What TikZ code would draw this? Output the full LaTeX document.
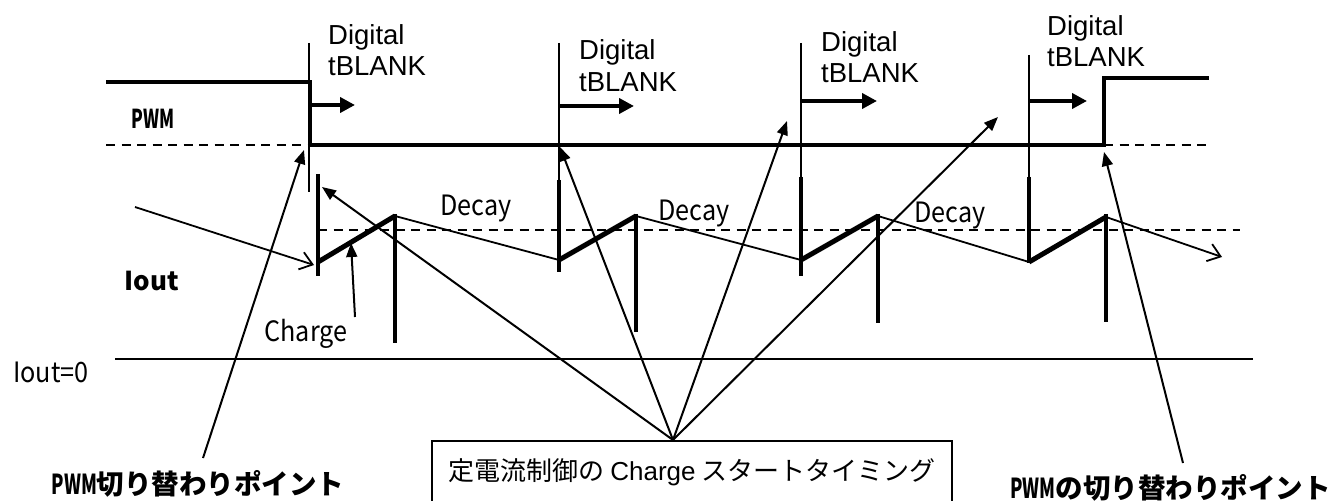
\documentclass[tikz,border=0pt]{standalone}
\usepackage{fontspec}
\setmainfont{Liberation Sans}
\newfontfamily\jp{Noto Sans CJK JP}
\newfontfamily\hwfont[FakeStretch=0.9]{Noto Sans CJK JP}
\newfontfamily\jpnarrow[FakeStretch=0.66]{Noto Sans CJK JP}
\usetikzlibrary{arrows.meta}
\tikzset{
  wave/.style={line width=3.4bp},
  thinv/.style={line width=2bp},
  iv/.style={line width=3.2bp},
  chg/.style={line width=5bp},
  dec/.style={line width=1.8bp},
  dsh/.style={line width=2bp, dash pattern=on 9bp off 6.5bp},
  conn/.style={line width=2bp, -{Triangle[length=14bp,width=11bp]}},
  openarr/.style={line width=1.8bp, -{Straight Barb[length=12bp,width=18bp]}},
  blank/.style={line width=4.2bp, -{Triangle[length=15bp,width=15bp]}},
  dig/.style={font=\fontsize{27.5bp}{31bp}\selectfont, inner sep=0, anchor=base west},
  hw/.style={font=\hwfont\fontsize{28bp}{30bp}\selectfont, inner sep=0},
  bl/.style={font=\jp\bfseries\fontsize{26bp}{30bp}\selectfont, inner sep=0},
  bbl/.style={font=\jp\bfseries\fontsize{27.5bp}{30bp}\selectfont, inner sep=0},
  boxlbl/.style={draw, line width=1.5bp, inner sep=0, minimum width=520bp, minimum height=64bp,
    font=\jp\fontsize{26bp}{30bp}\selectfont}
}
\begin{document}
\begin{tikzpicture}[x=1bp,y=-1bp]
\useasboundingbox (0,0) rectangle (1333,501);
% PWM waveform
\draw[wave] (106,82) -- (310,82) -- (310,145) -- (1104,145) -- (1104,78) -- (1209,78);
\draw[dsh] (106,145) -- (310,145);
\draw[dsh] (1104,145) -- (1207,145);
% tBLANK verticals
\draw[thinv] (309,43) -- (309,192);
\draw[thinv] (559,43) -- (559,180);
\draw[thinv] (801,43) -- (801,177);
\draw[thinv] (1029,55) -- (1029,177);
% Iout verticals at charge start
\draw[iv] (318,174) -- (318,276);
\draw[iv] (559,180) -- (559,272);
\draw[iv] (801,177) -- (801,276);
\draw[iv] (1029,177) -- (1029,263);
% peak verticals
\draw[iv] (395,214) -- (395,343);
\draw[iv] (636,214) -- (636,332);
\draw[iv] (878,214) -- (878,323);
\draw[iv] (1106,214) -- (1106,322);
% average and zero lines
\draw[dsh] (318,230) -- (1240,230);
\draw[line width=2bp] (115,359) -- (1253,359);
% sawtooth
\draw[chg] (318,262) -- (395,216);
\draw[chg] (559,260) -- (636,216);
\draw[chg] (801,260) -- (878,216);
\draw[chg] (1029,262) -- (1106,217);
\draw[dec] (395,216) -- (559,260);
\draw[dec] (636,216) -- (801,260);
\draw[dec] (878,216) -- (1029,262);
\coordinate (tailend) at (1222,257);
\draw[openarr] (1106,217) -- (tailend);
% tBLANK arrows
\draw[blank] (310,105) -- (355,105);
\draw[blank] (559,106) -- (634,106);
\draw[blank] (801,101) -- (877,101);
\draw[blank] (1029,101) -- (1087,101);
% Digital tBLANK labels
\node[dig] (d1a) at (328,45) {Digital};
\node[dig] (d1b) at (328,76) {tBLANK};
\node[dig] (d2a) at (579,60) {Digital};
\node[dig] (d2b) at (579,92) {tBLANK};
\node[dig] (d3a) at (821,52) {Digital};
\node[dig] (d3b) at (821,83) {tBLANK};
\node[dig] (d4a) at (1047,36) {Digital};
\node[dig] (d4b) at (1047,67) {tBLANK};
% side labels
\node[bl] (pwm) at (153,119) {{\jpnarrow\bfseries PWM}};
\node[bl] (iout) at (152,281) {Iout};
\node[hw] (charge) at (306,334) {Charge};
\node[hw] (iout0) at (51,372) {Iout=0};
\node[hw] (dc1) at (476,209) {Decay};
\node[hw] (dc2) at (694,214) {Decay};
\node[hw] (dc3) at (950,216) {Decay};
% bottom labels
\node[bbl] (lp) at (198,484) {{\jpnarrow\bfseries PWM}切り替わりポイント};
\node[bbl, anchor=east] (rp) at (1331,488) {{\jpnarrow\bfseries PWM}の切り替わりポイント};
\node[boxlbl, anchor=north] (box) at (692,440) {定電流制御の {\rmfamily Charge} スタートタイミング};
% connector endpoints
\coordinate (hub) at (673,440);
\coordinate (lfoot) at (203,458);
\coordinate (rfoot) at (1183,463);
\coordinate (inA) at (135,207);
\coordinate (chgfoot) at (355,317);
\coordinate (t1) at (304,150);
\coordinate (t2) at (314,265);
\coordinate (t3) at (351,243);
\coordinate (h1) at (322,187);
\coordinate (h2) at (560,147);
\coordinate (h3) at (787,121);
\coordinate (h4) at (998,117);
\coordinate (t5) at (1104,152);
% connectors
\draw[conn] (lfoot) -- (t1);
\draw[openarr] (inA) -- (t2);
\draw[conn] (chgfoot) -- (t3);
\draw[conn] (hub) -- (h1);
\draw[conn] (hub) -- (h2);
\draw[conn] (hub) -- (h3);
\draw[conn] (hub) -- (h4);
\draw[conn] (rfoot) -- (t5);
\end{tikzpicture}
\end{document}
